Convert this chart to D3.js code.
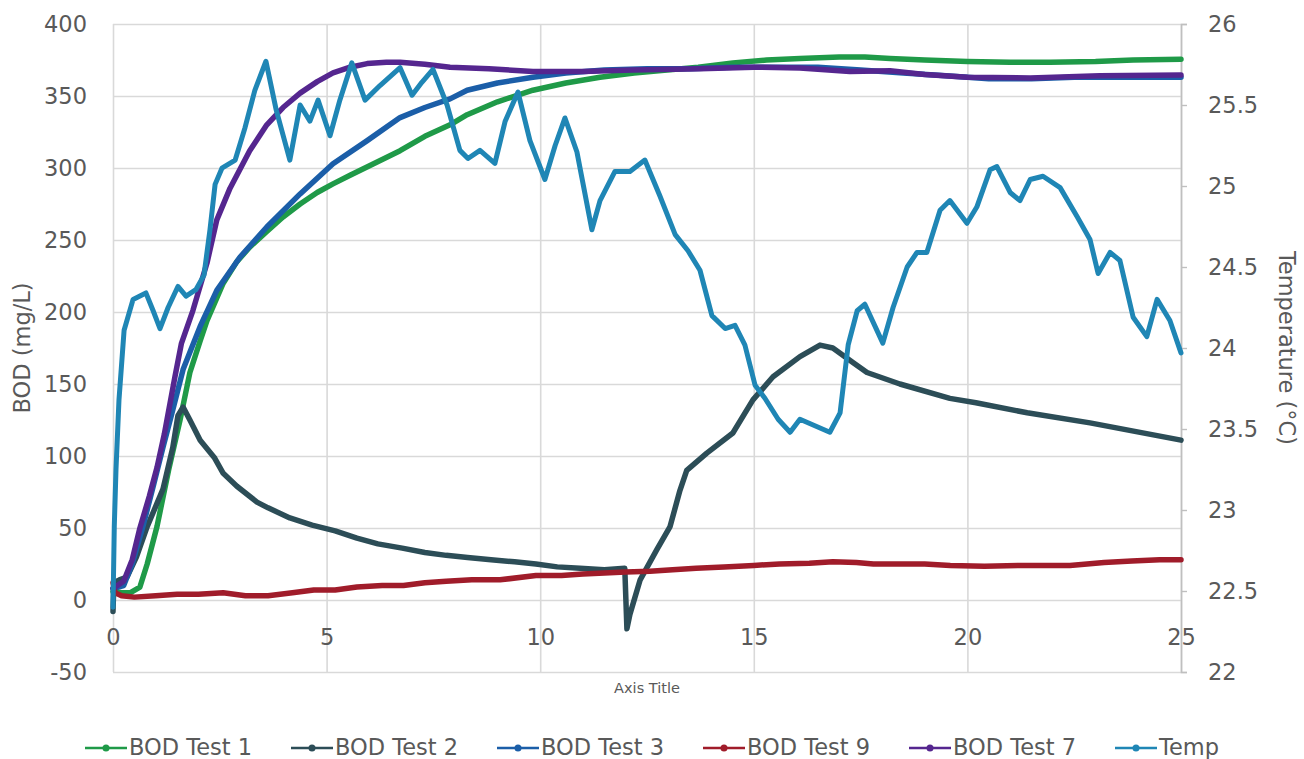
<!DOCTYPE html>
<html>
<head>
<meta charset="utf-8">
<script src="https://cdn.jsdelivr.net/npm/d3@7"></script>
<style>
  html, body { margin: 0; padding: 0; background: #ffffff; }
  svg { display: block; font-family: "DejaVu Sans", sans-serif; }
</style>
</head>
<body>
<svg id="chart" width="1304" height="759"></svg>
<script>
// ---------------- DATA ----------------
const seriesNames = ["BOD Test 1", "BOD Test 2", "BOD Test 3", "BOD Test 9", "BOD Test 7", "Temp"];

const xTicks = [0, 5, 10, 15, 20, 25];
const bodTicks = [-50, 0, 50, 100, 150, 200, 250, 300, 350, 400];
const tempTicks = [22, 22.5, 23, 23.5, 24, 24.5, 25, 25.5, 26];

// [time, BOD mg/L]
const bodTest1 = [[0,6],[0.2,5],[0.4,5],[0.63,9],[0.8,25],[1.03,51],[1.3,90],[1.57,125],[1.8,158],[2.04,180],[2.2,194],[2.58,220],[2.9,235],[3.2,245],[3.6,256],[3.98,266],[4.38,275],[4.78,283],[5.15,289],[5.55,295],[6.1,303],[6.72,312],[7.3,322],[7.89,330],[8.29,337],[9.0,346],[9.83,354],[10.6,359],[11.4,363],[12.2,366],[12.97,368],[13.7,370],[14.51,373],[15.3,375],[16.08,376],[17.0,377],[17.6,377],[18.19,376],[19.0,375],[20,374],[21,373.5],[21.93,373.5],[23,374],[23.88,375],[25,375.5]];

const bodTest2 = [[0,-8],[0.02,12],[0.15,14],[0.33,16],[0.55,30],[0.8,51],[1.0,65],[1.17,77],[1.4,106],[1.52,128],[1.64,134],[1.8,125],[2.04,111],[2.37,99],[2.58,88],[2.9,79],[3.37,68],[3.63,64],[4.14,57],[4.66,52],[5.2,48],[5.71,43],[6.2,39],[6.77,36],[7.3,33],[7.8,31],[8.3,29.5],[8.85,28],[9.4,26.5],[9.9,25],[10.4,23],[10.93,22],[11.5,21],[11.98,22],[12.03,-20],[12.1,-10],[12.34,14],[12.73,35],[13.04,51],[13.27,76],[13.43,90],[13.9,102],[14.51,116],[14.98,139],[15.45,155],[16.08,169],[16.55,177],[16.85,175],[17.32,165],[17.65,158],[18.42,150],[19.59,140],[20.2,137],[21.4,130],[22.87,123],[25,111]];

const bodTest3 = [[0,8],[0.25,10],[0.45,25],[0.7,51],[0.95,80],[1.17,106],[1.4,132],[1.64,160],[1.8,172],[2.04,190],[2.43,215],[2.97,238],[3.6,259],[4.38,282],[5.15,303],[5.95,319],[6.72,335],[7.3,342],[7.89,348],[8.29,354],[9.0,359],[9.83,363],[10.6,366],[11.5,368],[12.5,369],[13.5,369],[14.5,370],[15.5,370],[16.5,370],[17.5,368],[18.5,366],[19.5,364],[20.5,362],[21.5,362],[22.5,363],[23.5,363],[25,363]];

const bodTest9 = [[0,12],[0.05,5],[0.2,3],[0.5,2],[1.0,3],[1.5,4],[2.0,4],[2.58,5],[3.1,3],[3.63,3],[4.2,5],[4.7,7],[5.2,7],[5.71,9],[6.3,10],[6.8,10],[7.3,12],[7.8,13],[8.4,14],[9.06,14],[9.9,17],[10.5,17],[11.0,18],[12.0,19.5],[12.57,20],[13.1,21],[13.65,22],[14.3,23],[15,24],[15.6,25],[16.3,25.5],[16.85,26.5],[17.4,26],[17.8,25],[18.42,25],[19,25],[19.6,24],[20.4,23.5],[21.2,24],[22.4,24],[23.2,26],[23.85,27],[24.5,28],[25,28]];

const bodTest7 = [[0,8],[0.25,13],[0.45,28],[0.63,50],[0.85,72],[1.03,92],[1.2,115],[1.45,155],[1.6,178],[1.87,201],[2.2,234],[2.43,264],[2.74,286],[3.2,312],[3.6,330],[3.98,342],[4.38,352],[4.78,360],[5.15,366],[5.55,370],[5.95,372.5],[6.4,373.5],[6.72,373.5],[7.3,372],[7.89,370],[8.8,369],[9.83,367],[11,367],[12.17,368],[13.74,369],[15,370],[16.08,369.5],[17.25,367],[18.19,367.5],[19,365],[20,363],[21.47,362.5],[23.1,364],[25,364.5]];

// [time, temperature °C]
const temp = [[0,22.4],[0.03,22.9],[0.07,23.25],[0.14,23.68],[0.26,24.11],[0.47,24.30],[0.77,24.34],[0.94,24.23],[1.10,24.12],[1.29,24.25],[1.52,24.38],[1.71,24.32],[1.94,24.36],[2.13,24.45],[2.27,24.73],[2.39,25.01],[2.55,25.11],[2.86,25.16],[3.09,25.36],[3.32,25.59],[3.58,25.77],[3.82,25.47],[4.14,25.16],[4.38,25.50],[4.61,25.40],[4.80,25.53],[5.08,25.31],[5.31,25.53],[5.59,25.76],[5.90,25.53],[6.25,25.62],[6.72,25.73],[7.00,25.56],[7.23,25.64],[7.49,25.72],[7.82,25.50],[8.12,25.22],[8.31,25.17],[8.59,25.22],[8.94,25.14],[9.18,25.40],[9.48,25.58],[9.76,25.28],[10.11,25.04],[10.35,25.25],[10.58,25.42],[10.86,25.21],[11.21,24.73],[11.40,24.91],[11.75,25.09],[12.10,25.09],[12.45,25.16],[12.80,24.94],[13.16,24.70],[13.46,24.60],[13.74,24.48],[14.02,24.20],[14.33,24.12],[14.56,24.14],[14.79,24.02],[15.03,23.77],[15.26,23.69],[15.57,23.56],[15.85,23.48],[16.08,23.56],[16.43,23.52],[16.78,23.48],[17.02,23.60],[17.21,24.02],[17.42,24.23],[17.60,24.27],[18.02,24.03],[18.26,24.25],[18.59,24.50],[18.82,24.59],[19.05,24.59],[19.36,24.85],[19.59,24.91],[19.99,24.77],[20.22,24.87],[20.53,25.10],[20.69,25.12],[21.00,24.96],[21.23,24.91],[21.47,25.04],[21.77,25.06],[22.17,24.99],[22.57,24.81],[22.87,24.67],[23.06,24.46],[23.34,24.59],[23.57,24.54],[23.88,24.19],[24.20,24.07],[24.44,24.30],[24.74,24.17],[25.00,23.97]];

const seriesColors = ["#1f9a48", "#2c4d57", "#1b5ea8", "#a01c2a", "#55268f", "#1f86b5"];

// ---------------- CHART ----------------
const svg = d3.select("#chart");
const pLeft = 113, pRight = 1181, pTop = 24, pBottom = 672;
const fontSize = 22.5;
const plainFmt = d => String(d);   // hyphen-minus like the reference ("-50")

const x = d3.scaleLinear().domain([0, 25]).range([pLeft, pRight]);
const yL = d3.scaleLinear().domain([-50, 400]).range([pBottom, pTop]);
const yR = d3.scaleLinear().domain([22, 26]).range([pBottom, pTop]);

const textColor = "#595959";
const gridColor = "#d9d9d9";

// horizontal gridlines
svg.append("g")
  .attr("transform", `translate(${pLeft},0)`)
  .call(d3.axisLeft(yL).tickValues(bodTicks).tickSize(-(pRight - pLeft)).tickFormat(""))
  .call(g => g.select(".domain").remove())
  .call(g => g.selectAll("line").attr("stroke", gridColor).attr("stroke-width", 1.6));

// vertical gridlines
svg.append("g")
  .attr("transform", `translate(0,${pBottom})`)
  .call(d3.axisBottom(x).tickValues(xTicks).tickSize(-(pBottom - pTop)).tickFormat(""))
  .call(g => g.select(".domain").remove())
  .call(g => g.selectAll("line").attr("stroke", gridColor).attr("stroke-width", 1.6));

// left tick labels
svg.append("g")
  .attr("transform", `translate(${pLeft},0)`)
  .call(d3.axisLeft(yL).tickValues(bodTicks).tickSize(0).tickPadding(26).tickFormat(plainFmt))
  .call(g => g.select(".domain").remove())
  .call(g => g.selectAll("text").attr("fill", textColor).attr("font-size", fontSize)
    .attr("font-family", "'DejaVu Sans', sans-serif"));

// right axis
svg.append("g")
  .attr("transform", `translate(${pRight},0)`)
  .call(d3.axisRight(yR).tickValues(tempTicks).tickSize(6).tickPadding(21).tickFormat(plainFmt))
  .call(g => g.select(".domain").attr("stroke", "#bfbfbf").attr("stroke-width", 1.6))
  .call(g => g.selectAll("line").attr("stroke", "#bfbfbf").attr("stroke-width", 1.4))
  .call(g => g.selectAll("text").attr("fill", textColor).attr("font-size", fontSize)
    .attr("font-family", "'DejaVu Sans', sans-serif"));

// x tick labels (sitting between 0 and -50)
svg.append("g")
  .attr("transform", `translate(0,${yL(0)})`)
  .call(d3.axisBottom(x).tickValues(xTicks).tickSize(0).tickPadding(29).tickFormat(plainFmt))
  .call(g => g.select(".domain").remove())
  .call(g => g.selectAll("text").attr("fill", textColor).attr("font-size", fontSize)
    .attr("font-family", "'DejaVu Sans', sans-serif"));

// axis titles
svg.append("text")
  .attr("transform", "translate(30,348) rotate(-90)")
  .attr("text-anchor", "middle")
  .attr("fill", textColor).attr("font-size", fontSize)
  .text("BOD (mg/L)");

svg.append("text")
  .attr("transform", "translate(1279,348) rotate(90)")
  .attr("text-anchor", "middle")
  .attr("fill", textColor).attr("font-size", fontSize)
  .text("Temperature (°C)");

svg.append("text")
  .attr("x", 647)
  .attr("y", 693)
  .attr("text-anchor", "middle")
  .attr("fill", textColor).attr("font-size", 14.5)
  .text("Axis Title");

// lines
const lineL = d3.line().x(d => x(d[0])).y(d => yL(d[1])).curve(d3.curveLinear);
const lineR = d3.line().x(d => x(d[0])).y(d => yR(d[1])).curve(d3.curveLinear);

const plotted = [
  { data: bodTest1, gen: lineL, w: 5.5 },
  { data: bodTest2, gen: lineL, w: 5.5 },
  { data: bodTest3, gen: lineL, w: 5.5 },
  { data: bodTest9, gen: lineL, w: 5.5 },
  { data: bodTest7, gen: lineL, w: 5.5 },
  { data: temp,     gen: lineR, w: 5 }
];

plotted.forEach((s, i) => {
  svg.append("path")
    .datum(s.data)
    .attr("fill", "none")
    .attr("stroke", seriesColors[i])
    .attr("stroke-width", s.w)
    .attr("stroke-linejoin", "round")
    .attr("stroke-linecap", "round")
    .attr("d", s.gen);
});

// legend
const legend = svg.append("g").attr("transform", "translate(85,748)");
const legendStep = 206;
seriesNames.forEach((name, i) => {
  const g = legend.append("g").attr("transform", `translate(${i * legendStep},0)`);
  g.append("line").attr("x1", 0).attr("x2", 42).attr("y1", 0).attr("y2", 0)
    .attr("stroke", seriesColors[i]).attr("stroke-width", 2.5);
  g.append("circle").attr("cx", 21).attr("cy", 0).attr("r", 3.5).attr("fill", seriesColors[i]);
  g.append("text").attr("x", 44).attr("y", 7)
    .attr("fill", textColor).attr("font-size", fontSize)
    .text(name);
});
</script>
</body>
</html>
